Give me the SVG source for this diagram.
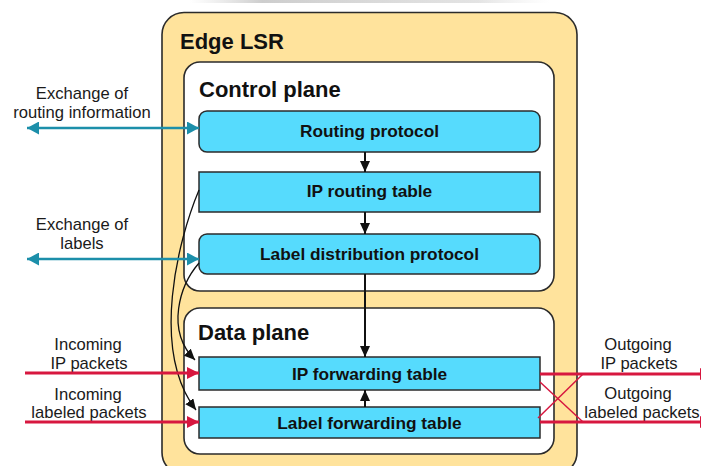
<svg xmlns="http://www.w3.org/2000/svg" width="701" height="466" viewBox="0 0 701 466">
  <defs>
    <style>
      .frame { fill: #FFE39C; stroke: #2b2b2b; stroke-width: 1.6; }
      .plane { fill: #ffffff; stroke: #2b2b2b; stroke-width: 1.6; }
      .block { fill: #56DBFD; stroke: #2b2b2b; stroke-width: 1.5; }
      .title { font-family: "Liberation Sans", Arial, sans-serif; font-weight: bold; font-size: 22px; fill: #111; }
      .blabel { font-family: "Liberation Sans", Arial, sans-serif; font-weight: bold; font-size: 17.3px; fill: #111; text-anchor: middle; }
      .side { font-family: "Liberation Sans", Arial, sans-serif; font-size: 16.6px; fill: #1a1a1a; text-anchor: middle; }
      .flow { fill: none; stroke: #111; stroke-width: 2; }
      .curve { fill: none; stroke: #111; stroke-width: 1.3; }
      .teal { fill: none; stroke: #1C8FAA; stroke-width: 2.6; }
      .red { fill: none; stroke: #D7173F; stroke-width: 3; }
      .redthin { fill: none; stroke: #D7173F; stroke-width: 1.5; }
    </style>
    <marker id="arrowBlack" markerUnits="userSpaceOnUse" viewBox="0 0 11 10" refX="11" refY="5" markerWidth="11" markerHeight="10" orient="auto">
      <path d="M0,0 L11,5 L0,10 z" fill="#111"/>
    </marker>
    <marker id="arrowTeal" markerUnits="userSpaceOnUse" viewBox="0 0 12 13" refX="12" refY="6.5" markerWidth="12" markerHeight="13" orient="auto-start-reverse">
      <path d="M0,0 L12,6.5 L0,13 z" fill="#1C8FAA"/>
    </marker>
    <marker id="arrowRed" markerUnits="userSpaceOnUse" viewBox="0 0 12 12" refX="12" refY="6" markerWidth="12" markerHeight="12" orient="auto">
      <path d="M0,0 L12,6 L0,12 z" fill="#D7173F"/>
    </marker>
    <linearGradient id="topShade" x1="0" y1="0" x2="1" y2="0">
      <stop offset="0" stop-color="#c8c8c8" stop-opacity="0"/>
      <stop offset="0.2" stop-color="#b8b8b8" stop-opacity="0.7"/>
      <stop offset="0.8" stop-color="#c8c8c8" stop-opacity="0.5"/>
      <stop offset="1" stop-color="#dddddd" stop-opacity="0"/>
    </linearGradient>
  </defs>

  <rect x="0" y="0" width="701" height="466" fill="#ffffff"/>
  <rect x="190" y="0" width="360" height="3" fill="url(#topShade)"/>

  <!-- router frame -->
  <g id="edge-lsr">
    <rect class="frame" x="162" y="12.5" width="415" height="462" rx="22" ry="22"/>
    <text class="title" x="180" y="49">Edge LSR</text>
  </g>

  <g id="control-plane">
    <rect class="plane" x="184" y="62" width="370" height="229" rx="16" ry="16"/>
    <text class="title" x="199" y="97">Control plane</text>
  </g>

  <g id="data-plane">
    <rect class="plane" x="184" y="308" width="370" height="146" rx="16" ry="16"/>
    <text class="title" x="198" y="340">Data plane</text>
  </g>

  <g id="routing-protocol">
    <rect class="block" x="199" y="111" width="341" height="41" rx="8" ry="8"/>
    <text class="blabel" x="369.5" y="137">Routing protocol</text>
  </g>

  <g id="ip-routing-table">
    <rect class="block" x="199" y="172" width="341" height="40"/>
    <text class="blabel" x="369.5" y="197">IP routing table</text>
  </g>

  <g id="label-distribution-protocol">
    <rect class="block" x="199" y="234" width="341" height="40" rx="8" ry="8"/>
    <text class="blabel" x="369.5" y="260">Label distribution protocol</text>
  </g>

  <g id="ip-forwarding-table">
    <rect class="block" x="199" y="357" width="341" height="33"/>
    <text class="blabel" x="369.5" y="380">IP forwarding table</text>
  </g>

  <g id="label-forwarding-table">
    <rect class="block" x="199" y="407" width="341" height="31"/>
    <text class="blabel" x="369.5" y="429">Label forwarding table</text>
  </g>

  <!-- side captions -->
  <g id="captions">
    <text class="side" x="82" y="99">Exchange of</text>
    <text class="side" x="82" y="118">routing information</text>
    <text class="side" x="82" y="230">Exchange of</text>
    <text class="side" x="82" y="249">labels</text>
    <text class="side" x="88" y="350">Incoming</text>
    <text class="side" x="89" y="369">IP packets</text>
    <text class="side" x="88" y="400">Incoming</text>
    <text class="side" x="89" y="418">labeled packets</text>
    <text class="side" x="638" y="350">Outgoing</text>
    <text class="side" x="639" y="369">IP packets</text>
    <text class="side" x="638" y="399">Outgoing</text>
    <text class="side" x="642" y="418">labeled packets</text>
  </g>

  <g id="connectors">
    <!-- internal flow -->
    <line class="flow" x1="365" y1="152" x2="365" y2="172" marker-end="url(#arrowBlack)"/>
    <line class="flow" x1="365" y1="212" x2="365" y2="234" marker-end="url(#arrowBlack)"/>
    <line class="flow" x1="365" y1="274" x2="365" y2="357" marker-end="url(#arrowBlack)"/>
    <line class="flow" x1="365" y1="407" x2="365" y2="390" marker-end="url(#arrowBlack)"/>

    <!-- table downloads into the data plane (crossing curves) -->
    <path class="curve" d="M199,190 C178,240 150,350 196,410" marker-end="url(#arrowBlack)"/>
    <path class="curve" d="M199,263 C180,285 165,330 195,360" marker-end="url(#arrowBlack)"/>

    <!-- control exchanges with peers -->
    <line class="teal" x1="27" y1="128" x2="199" y2="128" marker-start="url(#arrowTeal)" marker-end="url(#arrowTeal)"/>
    <line class="teal" x1="27" y1="259" x2="199" y2="259" marker-start="url(#arrowTeal)" marker-end="url(#arrowTeal)"/>

    <!-- incoming packets -->
    <line class="red" x1="25" y1="373" x2="199" y2="373" marker-end="url(#arrowRed)"/>
    <line class="red" x1="25" y1="422" x2="199" y2="422" marker-end="url(#arrowRed)"/>

    <!-- outgoing packets -->
    <line class="red" x1="540" y1="374" x2="712" y2="374" marker-end="url(#arrowRed)"/>
    <line class="red" x1="540" y1="422" x2="712" y2="422" marker-end="url(#arrowRed)"/>
    <line class="redthin" x1="540" y1="382" x2="583" y2="422"/>
    <line class="redthin" x1="538" y1="418" x2="583" y2="374"/>
  </g>
</svg>
